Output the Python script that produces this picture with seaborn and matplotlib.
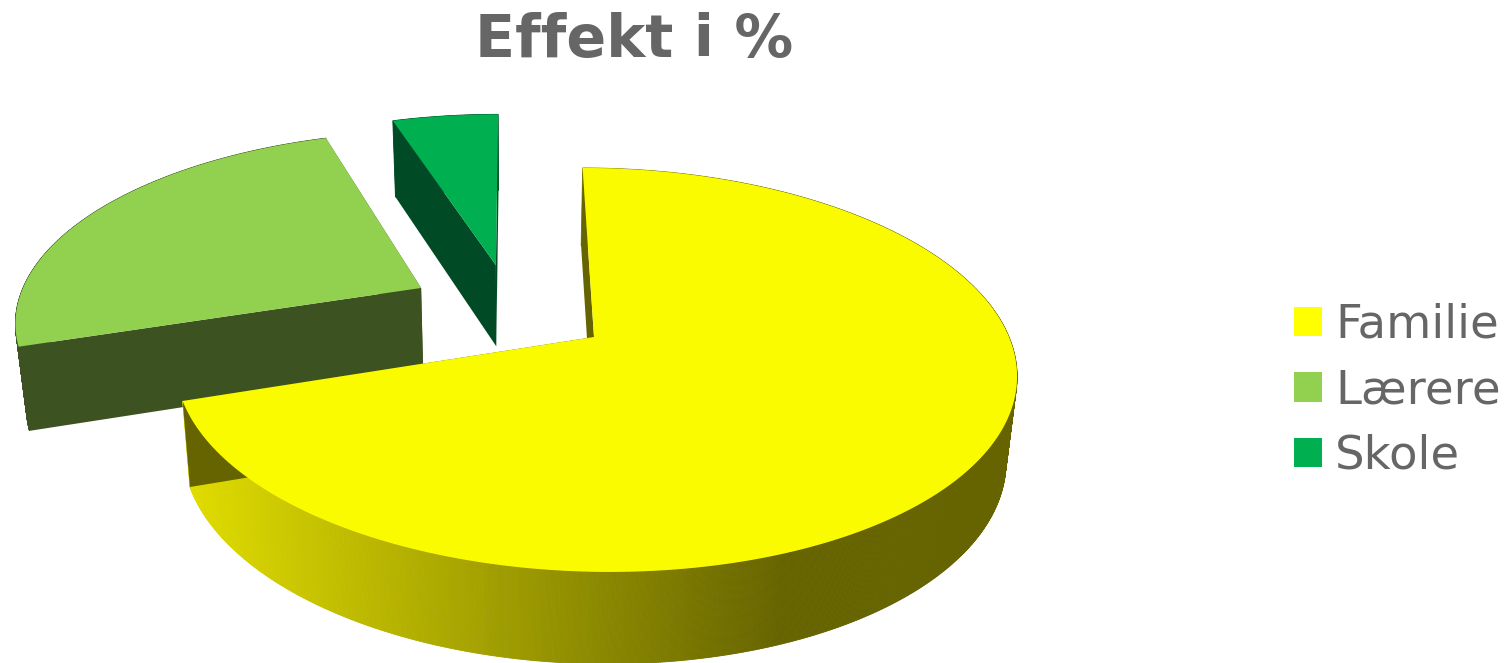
import numpy as np
import matplotlib
matplotlib.use("Agg")
import matplotlib.pyplot as plt
from matplotlib.patches import Patch, Polygon
import seaborn as sns

# data
categories = ["Familie", "Lærere", "Skole"]
values = [70, 25, 5]
title = "Effekt i %"

# styling per slice
top_colors = ["#FBFB00", "#92D050", "#00B050"]
legend_colors = ["#FFFF00", "#92D050", "#00B050"]
wall_colors = ["#666400", "#3C5321", "#004B26"]
explode = [(0.0, 0.0), (-0.426, 0.26), (-0.239, 0.389)]

# perspective of the pie, in figure pixels
VX, X0, AX = 513.0, 81.0, 415.0
CY, BY, K = 337.0, 196.6, 0.163
BOTTOM_SCALE = 0.978
TEXT_COLOR = "#666666"


def project(px, py):
    w = 1 + K * py
    return VX + (X0 + AX * px) / w, CY - BY * py / w


def drop(x, y):
    # same point on the underside of the slab
    return VX + (x - VX) * BOTTOM_SCALE, y + 72 + 0.035 * y


def arc(a0, a1, off):
    t = np.radians(np.arange(a0, a1 + 0.125, 0.25))
    return project(off[0] + np.sin(t), off[1] + np.cos(t))


sns.set_theme(style="white")
plt.rcParams["font.family"] = ["DejaVu Sans"]

fig = plt.figure(figsize=(15.09, 6.63), dpi=100)
ax = fig.add_axes([0, 0, 1, 1])
ax.set_xlim(0, 1509)
ax.set_ylim(663, 0)
ax.axis("off")

shade = sns.blend_palette(["#E0DC00", "#666400"], n_colors=128)

edges = np.concatenate([[0], np.cumsum(values)]) / sum(values) * 360
order = [1, 2, 0]  # familie sits in front

for i in order:
    a0, a1 = edges[i], edges[i + 1]
    off = explode[i]
    ax_x, ax_y = arc(a0, a1, off)
    bx, by = drop(ax_x, ax_y)
    ox, oy = project(*off)
    obx, oby = drop(ox, oy)

    # outer band
    for j in range(len(ax_x) - 1):
        quad = [(ax_x[j], ax_y[j]), (ax_x[j + 1], ax_y[j + 1]),
                (bx[j + 1], by[j + 1]), (bx[j], by[j])]
        if i == 0:
            pos = np.interp((bx[j] + bx[j + 1]) / 2, [190, 775], [0, 127])
            c = shade[int(pos)]
        else:
            c = wall_colors[i]
        ax.add_patch(Polygon(quad, closed=True, fc=c, ec=c, lw=0.6))

    # cut walls
    for k in (0, -1):
        wall = [(ox, oy), (ax_x[k], ax_y[k]), (bx[k], by[k]), (obx, oby)]
        ax.add_patch(Polygon(wall, closed=True, fc=wall_colors[i], ec="none"))

    # top face
    top = np.column_stack([np.r_[ox, ax_x], np.r_[oy, ax_y]])
    ax.add_patch(Polygon(top, closed=True, fc=top_colors[i], ec="none"))

ax.text(634, 40, title, ha="center", va="center", fontsize=42.3,
        fontweight="bold", color=TEXT_COLOR)

handles = [Patch(facecolor=c, edgecolor="none") for c in legend_colors]
leg = ax.legend(handles, categories, loc="upper left",
                bbox_to_anchor=(1294 / 1509, 1 - 303 / 663), frameon=False,
                fontsize=33.5, labelcolor=TEXT_COLOR, borderpad=0, borderaxespad=0,
                handlelength=0.6, handleheight=0.6, handletextpad=0.28,
                labelspacing=0.44)

fig.savefig("out.png", dpi=100, facecolor="white")
